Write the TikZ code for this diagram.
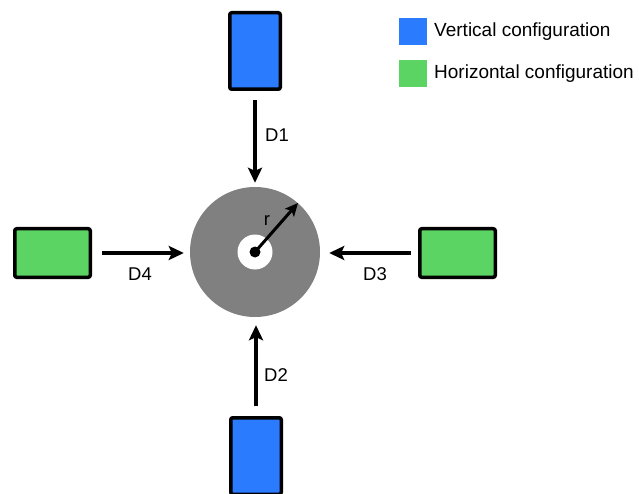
\documentclass[tikz,border=0pt]{standalone}
\usepackage{fontspec}
\setmainfont{Liberation Sans}
\usetikzlibrary{arrows.meta}
\definecolor{vblue}{RGB}{43,123,255}
\definecolor{hgreen}{RGB}{92,212,100}
\definecolor{discgray}{RGB}{128,128,128}
\tikzset{
  blk/.style={draw=black, line width=3.5pt, rounded corners=2pt, inner sep=0pt},
  vbox/.style={blk, fill=vblue, minimum width=50.5pt, minimum height=76.5pt},
  hbox/.style={blk, fill=hgreen, minimum width=75.5pt, minimum height=48.5pt},
  force/.style={line width=4pt, -{Stealth[length=15pt,width=14pt,inset=3pt]}},
  lbl/.style={font=\fontsize{18.5}{22}\selectfont, inner sep=0pt},
  keytext/.style={font=\fontsize{19}{22}\selectfont, inner sep=0pt, anchor=west},
  key/.style={fill=#1, minimum width=28pt, minimum height=27pt, inner sep=0pt}
}
\begin{document}
\begin{tikzpicture}[x=1pt,y=-1pt]
  \useasboundingbox (0,0) rectangle (639,494);
  \clip (0,0) rectangle (639,494);

  % central disc with its hub
  \node[circle, fill=discgray, minimum size=130pt, inner sep=0pt] (disc) at (255,252) {};
  \node[circle, fill=white, minimum size=35pt, inner sep=0pt] (hub) at (255,252) {};
  \node[circle, fill=black, minimum size=11pt, inner sep=0pt] (axis) at (255,252) {};
  \coordinate (rim) at (298,203);
  \draw[line width=3pt, -{Stealth[length=13pt,width=12pt,inset=3pt]}] (axis.center) -- (rim);
  \node[lbl] (rlab) at (267,221) {r};

  % the four blocks
  \node[vbox] (top) at (255,51) {};
  \node[vbox] (bottom) at (256,456) {};
  \node[hbox] (left) at (52.5,253) {};
  \node[hbox] (right) at (457.5,253) {};

  % approach arrows
  \draw[force, shorten <=9pt, shorten >=4pt] (top.south) -- (top.south |- disc.north);
  \draw[force, shorten <=10pt, shorten >=8pt] (bottom.north) -- (bottom.north |- disc.south);
  \draw[force, shorten <=10pt, shorten >=6pt] (left.east) -- (left.east -| disc.west);
  \draw[force, shorten <=7pt, shorten >=9pt] (right.west) -- (right.west -| disc.east);

  \node[lbl] (d1) at (277,135) {D1};
  \node[lbl] (d2) at (276,375) {D2};
  \node[lbl] (d3) at (375,274) {D3};
  \node[lbl] (d4) at (140,274) {D4};

  % legend
  \node[key=vblue] (kv) at (413,31.5) {};
  \node[key=hgreen] (kh) at (413,73.5) {};
  \node[keytext] (tv) at (434,31.5) {Vertical configuration};
  \node[keytext] (th) at (434,73.5) {Horizontal configuration};
\end{tikzpicture}
\end{document}
